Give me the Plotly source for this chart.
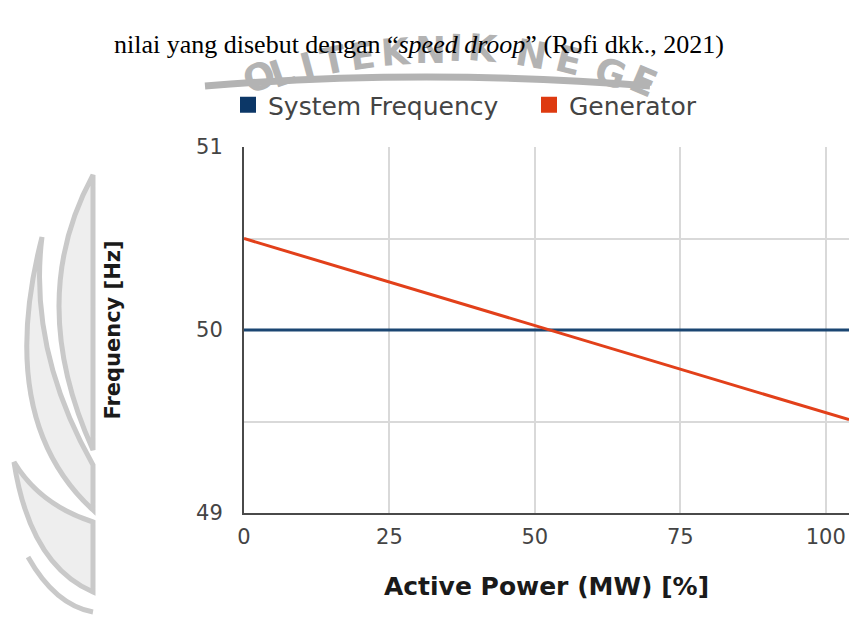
import plotly.graph_objects as go

# data
power_pct = [0, 104]
system_freq = [50, 50]
generator_freq = [50.5, 49.51]

x_ticks = [0, 25, 50, 75, 100]
y_ticks = [49, 49.5, 50, 50.5, 51]
y_labels = ["49", "", "50", "", "51"]

BLUE = "#1b4672"
BLUE_KEY = "#0c3767"
ORANGE = "#e2401a"
ORANGE_KEY = "#de3a10"
WM = "#b3b3b3"

PAGE_W, PAGE_H = 849, 624
# plot area in page pixels
L, R, T, B = 244, 849, 147, 513


def pp(x, y):
    # page pixel -> paper coords
    return (x - L) / (R - L), (B - y) / (B - T)


def path(points, close=False):
    parts = []
    for cmd, pts in points:
        coords = " ".join("%.4f,%.4f" % pp(*p) for p in pts)
        parts.append(cmd + " " + coords)
    return " ".join(parts) + (" Z" if close else "")


fig = go.Figure()

fig.add_trace(go.Scatter(x=power_pct, y=system_freq, mode="lines",
                         line=dict(color=BLUE, width=3), showlegend=False))
fig.add_trace(go.Scatter(x=power_pct, y=generator_freq, mode="lines",
                         line=dict(color=ORANGE, width=3), showlegend=False))

# square legend keys
fig.add_trace(go.Scatter(x=[None], y=[None], mode="markers", name="System Frequency",
                         marker=dict(symbol="square", size=16, color=BLUE_KEY)))
fig.add_trace(go.Scatter(x=[None], y=[None], mode="markers", name="Generator",
                         marker=dict(symbol="square", size=16, color=ORANGE_KEY)))

# background watermark (logo of the scanned page)
shapes = []
leaf_fill = "#eeeeee"
leaf_line = "#c9c9c9"
shapes.append(dict(type="path", layer="below", xref="paper", yref="paper",
                   path=path([("M", [(93, 175)]), ("Q", [(25, 300), (93, 450)])], True),
                   fillcolor=leaf_fill, line=dict(color=leaf_line, width=5)))
shapes.append(dict(type="path", layer="below", xref="paper", yref="paper",
                   path=path([("M", [(42, 237)]), ("Q", [(-5, 420), (93, 510)]),
                              ("L", [(93, 465)]), ("Q", [(28, 350), (42, 237)])], True),
                   fillcolor=leaf_fill, line=dict(color=leaf_line, width=5)))
shapes.append(dict(type="path", layer="below", xref="paper", yref="paper",
                   path=path([("M", [(14, 462)]), ("Q", [(30, 565), (93, 592)]),
                              ("L", [(93, 522)]), ("Q", [(40, 505), (14, 462)])], True),
                   fillcolor=leaf_fill, line=dict(color=leaf_line, width=5)))
shapes.append(dict(type="path", layer="below", xref="paper", yref="paper",
                   path=path([("M", [(28, 557)]), ("Q", [(55, 605), (93, 612)])]),
                   line=dict(color=leaf_line, width=5)))
shapes.append(dict(type="path", layer="below", xref="paper", yref="paper",
                   path=path([("M", [(205, 86)]), ("Q", [(425, 68), (650, 86)])]),
                   line=dict(color=WM, width=7)))

annotations = []
wm_letters = [
    ("O", 259, 78, -22), ("L", 282, 72, -19), ("I", 308, 67, -15),
    ("T", 334, 61, -12), ("E", 362, 57, -8), ("K", 396, 53, -4),
    ("N", 430, 50, 0), ("I", 456, 48, 3), ("K", 483, 48, 5),
    ("N", 531, 54, 10), ("E", 568, 61, 14), ("G", 610, 74, 19),
    ("E", 643, 81, 23),
]
for ch, x, y, ang in wm_letters:
    ax, ay = pp(x, y)
    annotations.append(dict(text="<b>%s</b>" % ch, x=ax, y=ay, xref="paper", yref="paper",
                            xanchor="center", yanchor="middle",
                            showarrow=False, textangle=ang,
                            font=dict(family="DejaVu Sans", size=37, color=WM)))

# line of body text above the figure
tx, ty = pp(419, 45)
annotations.append(dict(text="nilai yang disebut dengan \u201c<i>speed droop</i>\u201d (Rofi dkk., 2021)",
                        x=tx, y=ty, xref="paper", yref="paper", showarrow=False,
                        xanchor="center", yanchor="middle",
                        font=dict(family="Liberation Serif", size=26, color="#000000")))

lx, ly = pp(228, 105)
fig.update_layout(
    width=PAGE_W,
    height=PAGE_H,
    margin=dict(l=L, r=PAGE_W - R, t=T, b=PAGE_H - B),
    paper_bgcolor="white",
    plot_bgcolor="white",
    shapes=shapes,
    annotations=annotations,
    legend=dict(orientation="h", x=lx, y=ly, xanchor="left", yanchor="middle",
                font=dict(family="DejaVu Sans", size=25, color="#444444"),
                itemwidth=30, entrywidth=256, bgcolor="rgba(0,0,0,0)"),
    xaxis=dict(
        range=[0, 104],
        tickvals=x_ticks,
        showgrid=True, gridcolor="#d9d9d9", gridwidth=1.5,
        zeroline=False,
        showline=True, linecolor="#4a4a4a", linewidth=2,
        ticks="", ticklen=0, ticklabelstandoff=4,
        tickfont=dict(family="DejaVu Sans", size=21, color="#444444"),
        title=dict(text="Active Power (MW) [%]", standoff=29,
                   font=dict(family="DejaVu Sans", size=25, color="#1a1a1a", weight="bold")),
        fixedrange=True,
    ),
    yaxis=dict(
        range=[49, 51],
        tickvals=y_ticks,
        ticktext=y_labels,
        showgrid=True, gridcolor="#d9d9d9", gridwidth=1.5,
        zeroline=False,
        showline=True, linecolor="#4a4a4a", linewidth=2,
        ticks="", ticklen=0, ticklabelstandoff=15,
        tickfont=dict(family="DejaVu Sans", size=21, color="#444444"),
        title=dict(text="Frequency [Hz]", standoff=70,
                   font=dict(family="DejaVu Sans", size=21, color="#1a1a1a", weight="bold")),
        fixedrange=True,
    ),
)

# drop the default page margin so the figure fills the window exactly
fig.write_html("out.html", config={"displayModeBar": False},
               post_script="document.body.style.margin='0';document.body.style.overflow='hidden';")
